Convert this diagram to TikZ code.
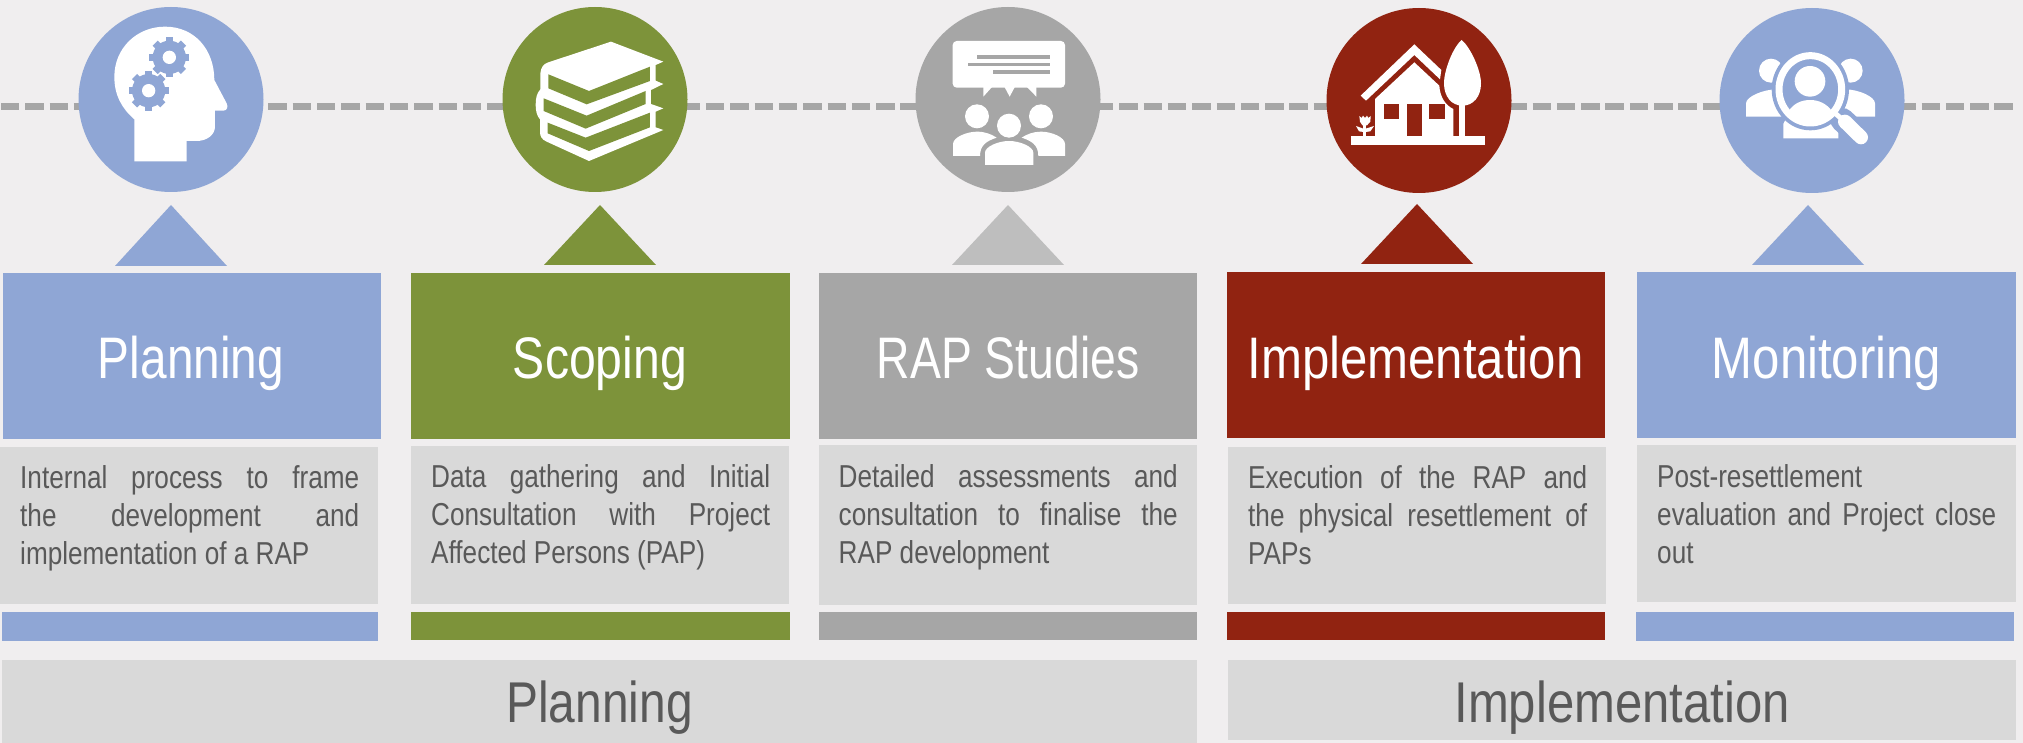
\documentclass[tikz,border=0pt]{standalone}
\usepackage{graphicx}
\usepackage{fontspec}
\setmainfont{Liberation Sans}
\newfontfamily\titlefont[FakeStretch=.81]{Liberation Sans}
\newfontfamily\bodyfont[FakeStretch=.825]{Liberation Sans}
\definecolor{bgc}{HTML}{F0EEEF}
\definecolor{bluec}{HTML}{8FA6D5}
\definecolor{greenc}{HTML}{7D933A}
\definecolor{grayc}{HTML}{A6A6A6}
\definecolor{redc}{HTML}{912311}
\definecolor{lightc}{HTML}{D9D9D9}
\definecolor{inkc}{HTML}{595959}
\definecolor{palec}{HTML}{BEBEBE}
\newcommand{\jline}[1]{\makebox[339pt][s]{\rule{0pt}{25pt}#1}}
\newcommand{\lline}[1]{\makebox[339pt][l]{\rule{0pt}{25pt}#1}}
\tikzset{
  blockbox/.style={anchor=north west,inner sep=0pt,outer sep=0pt,draw=none},
  disc/.style={circle,inner sep=0pt,outer sep=0pt,minimum size=185pt,draw=none},
  bigtitle/.style={anchor=base,inner sep=0pt,text=white,font=\titlefont\fontsize{58.6}{60}\selectfont},
  lowtitle/.style={anchor=base,inner sep=0pt,text=inkc,font=\titlefont\fontsize{57.5}{60}\selectfont},
  bodytext/.style={anchor=north west,inner sep=0pt,text=inkc,align=left,font=\bodyfont\fontsize{31.7}{38}\selectfont},
  linedash/.style={draw=grayc,line width=6.5pt,dash pattern=on 18.4pt off 5.91pt},
  icon/.style={fill=white,draw=none}
}
\newcommand{\gearat}[2]{%
  \foreach \a in {0,45,...,315}{
    \fill[bluec,rotate around={\a:(#1,#2)}] (#1-11,#2-60) rectangle (#1+11,#2);
  }
  \fill[bluec] (#1,#2) circle[radius=50];
  \fill[white] (#1,#2) circle[radius=20];
}
\begin{document}
\begin{tikzpicture}[x=1pt,y=-1pt]
\useasboundingbox (0,0) rectangle (2023,743);
\fill[bgc] (0,0) rectangle (2023,743);
% timeline
\coordinate (lineL) at (1,106.7);
\coordinate (lineR) at (2013.5,106.7);
\draw[linedash] (lineL) -- (lineR);
% discs
\node[disc,fill=bluec]  (c1) at (171,99.5) {};
\node[disc,fill=greenc] (c2) at (595,99.5) {};
\node[disc,fill=grayc]  (c3) at (1008,99.5) {};
\node[disc,fill=redc]   (c4) at (1419,100.5) {};
\node[disc,fill=bluec]  (c5) at (1812,100.5) {};
% triangles
\fill[bluec]  (171,205) -- (227,266) -- (115,266) -- cycle;
\fill[greenc] (600,205) -- (656,265) -- (544,265) -- cycle;
\fill[palec]  (1008,205) -- (1064,265) -- (952,265) -- cycle;
\fill[redc]   (1417,204) -- (1473,264) -- (1361,264) -- cycle;
\fill[bluec]  (1808,205) -- (1864,265) -- (1752,265) -- cycle;
% header boxes
\node[blockbox,fill=bluec,minimum width=378pt,minimum height=166pt]  (b1) at (3,273) {};
\node[blockbox,fill=greenc,minimum width=379pt,minimum height=166pt] (b2) at (411,273) {};
\node[blockbox,fill=grayc,minimum width=378pt,minimum height=166pt]  (b3) at (819,273) {};
\node[blockbox,fill=redc,minimum width=378pt,minimum height=166pt]   (b4) at (1227,272) {};
\node[blockbox,fill=bluec,minimum width=379pt,minimum height=166pt]  (b5) at (1637,272) {};
\node[bigtitle] (t1) at (191,378) {\scalebox{1.007}[1]{Planning}};
\node[bigtitle] (t2) at (600,378) {\scalebox{1.015}[1]{Scoping}};
\node[bigtitle] (t3) at (1008,378) {\scalebox{.976}[1]{RAP Studies}};
\node[bigtitle] (t4) at (1415.5,378) {\scalebox{1.036}[1]{Implementation}};
\node[bigtitle] (t5) at (1826.5,378) {\scalebox{1.035}[1]{Monitoring}};
% description boxes
\node[blockbox,fill=lightc,minimum width=378pt,minimum height=157pt] (d1) at (0,447) {};
\node[blockbox,fill=lightc,minimum width=378pt,minimum height=158pt] (d2) at (411,446) {};
\node[blockbox,fill=lightc,minimum width=378pt,minimum height=160pt] (d3) at (819,445) {};
\node[blockbox,fill=lightc,minimum width=378pt,minimum height=157pt] (d4) at (1228,447) {};
\node[blockbox,fill=lightc,minimum width=379pt,minimum height=157pt] (d5) at (1637,445) {};
\node[bodytext] (x1) at (20,463.7) {\jline{Internal process to frame}\\\jline{the development and}\\\lline{implementation of a RAP}};
\node[bodytext] (x2) at (431,462.7) {\jline{Data gathering and Initial}\\\jline{Consultation with Project}\\\lline{Affected Persons (PAP)}};
\node[bodytext] (x3) at (838.5,462.7) {\jline{Detailed assessments and}\\\jline{consultation to finalise the}\\\lline{RAP development}};
\node[bodytext] (x4) at (1248,463.7) {\jline{Execution of the RAP and}\\\jline{the physical resettlement of}\\\lline{PAPs}};
\node[bodytext] (x5) at (1657,462.7) {\lline{Post-resettlement}\\\jline{evaluation and Project close}\\\lline{out}};
% colour bars
\node[blockbox,fill=bluec,minimum width=376pt,minimum height=29pt]  (s1) at (2,612) {};
\node[blockbox,fill=greenc,minimum width=379pt,minimum height=28pt] (s2) at (411,612) {};
\node[blockbox,fill=grayc,minimum width=378pt,minimum height=28pt]  (s3) at (819,612) {};
\node[blockbox,fill=redc,minimum width=378pt,minimum height=28pt]   (s4) at (1227,612) {};
\node[blockbox,fill=bluec,minimum width=378pt,minimum height=29pt]  (s5) at (1636,612) {};
% phase bands
\node[blockbox,fill=lightc,minimum width=1195pt,minimum height=83pt] (p1) at (2,660) {};
\node[blockbox,fill=lightc,minimum width=788pt,minimum height=80pt]  (p2) at (1228,660) {};
\node[lowtitle] (pt1) at (599.5,722.7) {\scalebox{1.029}[1]{Planning}};
\node[lowtitle] (pt2) at (1622,722.7) {\scalebox{1.053}[1]{Implementation}};
% icon: head with gears
\begin{scope}[shift={(100,20)},x=.3333pt,y=-.3333pt]
  \fill[icon] (103,424) -- (103,298) .. controls (65,265) and (43,225) .. (43,170)
    .. controls (43,85) and (110,20) .. (195,20)
    .. controls (285,20) and (343,90) .. (343,180)
    -- (380,250) .. controls (386,262) and (380,272) .. (370,272) -- (345,272) -- (345,320)
    .. controls (345,345) and (320,363) .. (290,363) -- (260,363) -- (260,424) -- cycle;
  \gearat{208}{112}
  \gearat{146}{212}
\end{scope}
% icon: books
\begin{scope}[shift={(525,30)},x=.3333pt,y=-.3333pt]
  \fill[icon] (258,35) -- (415,95) -- (392,105) -- (392,152) -- (415,162) -- (378,180) -- (378,222)
    -- (415,235) -- (392,245) -- (392,292) -- (415,300) -- (192,393) -- (65,335)
    .. controls (50,328) and (45,320) .. (45,305) -- (45,268)
    .. controls (35,258) and (32,240) .. (32,225) .. controls (32,205) and (35,190) .. (46,178)
    -- (46,130) .. controls (48,112) and (55,102) .. (70,97) -- cycle;
  \fill[greenc] (70,133) -- (192,183) -- (375,110) -- (375,153) -- (185,223) -- (70,175) -- cycle;
  \fill[greenc] (56,205) -- (185,257) -- (362,183) -- (362,222) -- (182,296) -- (56,243) -- cycle;
  \fill[greenc] (68,278) -- (182,323) -- (375,248) -- (375,292) -- (192,363) -- (68,310) -- cycle;
\end{scope}
% icon: people with speech bubble
\begin{scope}[shift={(935,30)},x=.3333pt,y=-.3333pt]
  \fill[icon,rounded corners=4pt] (53,33) rectangle (390,173);
  \fill[icon] (145,170) -- (145,200) -- (172,170) -- cycle;
  \fill[icon] (208,170) -- (224,200) -- (240,170) -- cycle;
  \fill[icon] (275,170) -- (304,200) -- (304,170) -- cycle;
  \fill[grayc] (127,75) rectangle (345,86);
  \fill[grayc] (99,98) rectangle (345,108);
  \fill[grayc] (174,121) rectangle (345,131);
  \fill[icon] (126,259) circle[radius=36];
  \fill[icon] (318,259) circle[radius=36];
  \fill[icon] (222,287) circle[radius=36];
  \fill[icon] (150,405) -- (150,368) .. controls (150,350) and (190,333) .. (222,333)
    .. controls (255,333) and (295,350) .. (295,368) -- (295,405) -- cycle;
  \fill[icon] (54,378) -- (54,342) .. controls (54,322) and (95,305) .. (126,305)
    .. controls (150,305) and (170,313) .. (185,323) .. controls (155,333) and (135,345) .. (135,378) -- cycle;
  \fill[icon] (390,378) -- (390,342) .. controls (390,322) and (350,305) .. (318,305)
    .. controls (295,305) and (275,313) .. (260,323) .. controls (290,333) and (310,345) .. (310,378) -- cycle;
\end{scope}
% icon: house and tree
\begin{scope}[shift={(1345,30)},x=.3333pt,y=-.3333pt]
  \fill[icon] (18,318) rectangle (420,345);
  \fill[icon] (90,320) -- (90,207) -- (208,97) -- (283,167)
    .. controls (285,200) and (300,225) .. (325,237) -- (325,320) -- cycle;
  \fill[redc] (117,222) rectangle (163,268);
  \fill[redc] (253,222) rectangle (299,268);
  \fill[redc] (185,222) rectangle (231,318);
  \fill[icon] (47,197) -- (208,43) -- (289,120) -- (285,148) -- (208,75) -- (63,212) -- cycle;
  \fill[icon] (350,30) .. controls (375,50) and (408,120) .. (408,160)
    .. controls (408,200) and (385,227) .. (352,227)
    .. controls (320,227) and (297,200) .. (297,160)
    .. controls (297,120) and (325,50) .. (350,30) -- cycle;
  \fill[icon] (343,222) rectangle (361,320);
  \fill[icon] (43,258) -- (50,264) -- (54,257) -- (60,264) -- (66,257) -- (70,264) -- (77,258)
    -- (76,275) -- (66,286) -- (52,286) -- (45,275) -- cycle;
  \fill[icon] (55,284) rectangle (62,320);
  \fill[icon] (33,288) -- (55,296) -- (55,306) -- (42,304) -- cycle;
  \fill[icon] (87,288) -- (62,296) -- (62,306) -- (76,304) -- cycle;
\end{scope}
% icon: people under a magnifier
\begin{scope}[shift={(1735,40)},x=.3333pt,y=-.3333pt]
  \fill[icon] (108,92) circle[radius=36];
  \fill[icon] (347,92) circle[radius=36];
  \fill[icon] (33,230) -- (33,190) .. controls (33,170) and (85,148) .. (125,148) -- (140,230) -- cycle;
  \fill[icon] (420,230) -- (420,190) .. controls (420,170) and (370,148) .. (330,148) -- (310,230) -- cycle;
  \fill[icon] (145,295) -- (145,252) -- (155,232) -- (300,225) -- (310,270) -- (310,295) -- cycle;
  \fill[bluec] (226,148) ellipse[x radius=116,y radius=123];
  \draw[bluec,line width=24pt,line cap=round] (322,240) -- (378,292);
  \draw[white,line width=7pt] (226,148) ellipse[x radius=94,y radius=101];
  \fill[icon] (225,124) circle[radius=46];
  \begin{scope}
    \clip (226,148) ellipse[x radius=92,y radius=99];
    \fill[icon] (160,215) .. controls (175,190) and (200,180) .. (225,180)
      .. controls (250,180) and (275,190) .. (292,215) -- (292,270) -- (160,270) -- cycle;
  \end{scope}
  \draw[white,line width=5pt] (298,218) -- (330,245);
  \draw[white,line width=14pt,line cap=round] (330,245) -- (378,292);
\end{scope}
\end{tikzpicture}
\end{document}
